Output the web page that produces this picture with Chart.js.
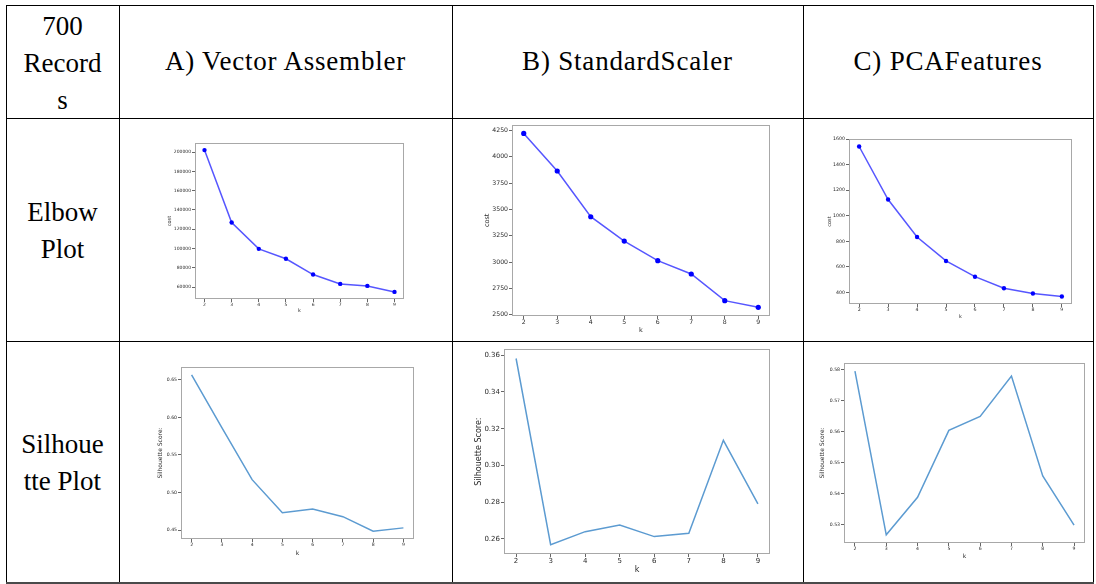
<!DOCTYPE html>
<html><head><meta charset="utf-8">
<script src="https://cdn.jsdelivr.net/npm/chart.js@4.4.0/dist/chart.umd.min.js"></script>
<style>
html,body{margin:0;padding:0;background:#fff;}
body{width:1096px;height:584px;overflow:hidden;position:relative;}
.ln{position:absolute;background:#000;}
.cell{position:absolute;display:flex;align-items:center;justify-content:center;text-align:center;font-family:'Liberation Serif','Tinos','DejaVu Serif','Noto Serif',serif;font-size:27px;line-height:37px;color:#000;white-space:nowrap;}
.hdr{letter-spacing:0.8px;}
canvas{position:absolute;}
</style></head><body>
<script>
// ---------- data ----------
const kValues = [2, 3, 4, 5, 6, 7, 8, 9];
const elbowVectorAssembler = [202000, 127000, 99700, 89400, 73100, 63400, 61300, 55100];
const elbowStandardScaler = [4221, 3864, 3430, 3199, 3013, 2886, 2633, 2570];
const elbowPCAFeatures = [1542, 1127, 834, 647, 524, 434, 392, 369];
const silhouetteVectorAssembler = [0.6566, 0.5863, 0.5172, 0.4733, 0.4782, 0.4680, 0.4487, 0.4531];
const silhouetteStandardScaler = [0.3582, 0.2569, 0.2640, 0.2676, 0.2613, 0.2631, 0.3137, 0.2791];
const silhouettePCAFeatures = [0.5796, 0.5268, 0.5389, 0.5605, 0.5650, 0.5780, 0.5458, 0.5299];

const ticksElbowVA = [60000, 80000, 100000, 120000, 140000, 160000, 180000, 200000];
const ticksElbowSS = [2500, 2750, 3000, 3250, 3500, 3750, 4000, 4250];
const ticksElbowPCA = [400, 600, 800, 1000, 1200, 1400, 1600];
const ticksSilVA = [0.45, 0.50, 0.55, 0.60, 0.65];
const ticksSilSS = [0.26, 0.28, 0.30, 0.32, 0.34, 0.36];
const ticksSilPCA = [0.53, 0.54, 0.55, 0.56, 0.57, 0.58];

const cornerLines = ["700", "Record", "s"];
const headerLabels = ["A) Vector Assembler", "B) StandardScaler", "C) PCAFeatures"];
const rowLabels = [["Elbow", "Plot"], ["Silhoue", "tte Plot"]];
const elbowTitle = "cost";
const silTitle = "Silhouette Score:";
const xTitle = "k";

// ---------- table ----------
const colX = [6, 119, 452, 803, 1093];
const rowY = [5, 118, 341, 582];
function line(x, y, w, h, c) {
  const d = document.createElement('div'); d.className = 'ln';
  d.style.left = x + 'px'; d.style.top = y + 'px'; d.style.width = w + 'px'; d.style.height = h + 'px';
  if (c) d.style.background = c;
  document.body.appendChild(d);
}
colX.forEach(x => line(x, rowY[0], 1, rowY[3] - rowY[0]));
rowY.slice(0, 3).forEach(y => line(colX[0], y, colX[4] - colX[0] + 1, 1));
line(colX[0], rowY[3], colX[4] - colX[0] + 1, 2, '#4a4a4a');
function cell(x0, x1, y0, y1, html, extra) {
  const d = document.createElement('div'); d.className = 'cell' + (extra ? ' ' + extra : '');
  d.style.left = x0 + 'px'; d.style.top = y0 + 'px';
  d.style.width = (x1 - x0) + 'px'; d.style.height = (y1 - y0) + 'px';
  d.innerHTML = html; document.body.appendChild(d);
}
cell(colX[0], colX[1], rowY[0] + 2, rowY[1] + 2, cornerLines.join('<br>'));
headerLabels.forEach((t, i) => cell(colX[i + 1], colX[i + 2], rowY[0], rowY[1], t, 'hdr'));
rowLabels.forEach((r, i) => cell(colX[0], colX[1], rowY[i + 1] + 1, rowY[i + 2] + 1, r.join('<br>')));

// ---------- charts ----------
const framePlugin = {
  id: 'frame',
  afterDatasetsDraw(c) {
    const a = c.chartArea, ctx = c.ctx;
    ctx.save(); ctx.strokeStyle = '#a8a8a8'; ctx.lineWidth = 1;
    ctx.strokeRect(Math.round(a.left) + 0.5, Math.round(a.top) + 0.5, Math.round(a.right - a.left) - 1, Math.round(a.bottom - a.top) - 1);
    ctx.restore();
  }
};

function makeChart(box, vals, yTicks, dec, yTitleText, elbow) {
  const pad = 4;
  const cv = document.createElement('canvas');
  const w = box.yw + (box.R - box.L) + pad, h = pad + (box.B - box.T) + box.xh;
  cv.width = w; cv.height = h;
  cv.style.width = w + 'px'; cv.style.height = h + 'px';
  cv.style.left = (box.L - box.yw) + 'px'; cv.style.top = (box.T - pad) + 'px';
  document.body.appendChild(cv);
  const lo = Math.min(...vals), hi = Math.max(...vals), m = (hi - lo) * 0.05;
  const tickFont = {family: 'DejaVu Sans', size: box.tf};
  const titleFont = {family: 'DejaVu Sans', size: box.ttf};
  const ds = elbow ? {
    data: kValues.map((k, i) => ({x: k, y: vals[i]})),
    borderColor: 'rgba(30,30,255,0.75)', borderWidth: 1.5,
    pointRadius: box.pr, pointBackgroundColor: '#0000ff', pointBorderWidth: 0,
    tension: 0
  } : {
    data: kValues.map((k, i) => ({x: k, y: vals[i]})),
    borderColor: '#5c9bd1', borderWidth: 1.5, pointRadius: 0, tension: 0
  };
  new Chart(cv, {
    type: 'line',
    data: {datasets: [ds]},
    options: {
      responsive: false, animation: false, devicePixelRatio: 1,
      layout: {padding: {top: pad, right: pad, left: 0, bottom: 0}},
      plugins: {legend: {display: false}, tooltip: {enabled: false}},
      scales: {
        x: {
          type: 'linear', min: 1.65, max: 9.35,
          afterBuildTicks: s => { s.ticks = kValues.map(v => ({value: v})); },
          afterFit: s => { s.height = box.xh; },
          grid: {drawOnChartArea: false, drawTicks: true, tickLength: 3, color: '#666'},
          border: {display: false},
          ticks: {font: tickFont, color: '#2a2a2a', padding: 0, maxRotation: 0, autoSkip: false, callback: v => String(v)},
          title: {display: true, text: xTitle, font: titleFont, color: '#2a2a2a', padding: 0}
        },
        y: {
          min: lo - m, max: hi + m,
          afterBuildTicks: s => { s.ticks = yTicks.map(v => ({value: v})); },
          afterFit: s => { s.width = box.yw; },
          grid: {drawOnChartArea: false, drawTicks: true, tickLength: 3, color: '#666'},
          border: {display: false},
          ticks: {font: tickFont, color: '#2a2a2a', padding: 1, autoSkip: false, callback: v => v.toFixed(dec)},
          title: {display: true, text: yTitleText, font: titleFont, color: '#2a2a2a', padding: 0}
        }
      }
    },
    plugins: [framePlugin]
  });
}

makeChart({L:195, T:143, R:404, B:299, yw:28, xh:15, tf:4.5, ttf:5, pr:2.2}, elbowVectorAssembler, ticksElbowVA, 0, elbowTitle, true);
makeChart({L:512, T:124, R:770, B:316, yw:29, xh:18, tf:6.2, ttf:6.5, pr:2.6}, elbowStandardScaler, ticksElbowSS, 0, elbowTitle, true);
makeChart({L:849, T:139, R:1072, B:304, yw:22, xh:16, tf:4.7, ttf:5, pr:2.2}, elbowPCAFeatures, ticksElbowPCA, 0, elbowTitle, true);
makeChart({L:181, T:367, R:414, B:539, yw:24, xh:18, tf:4.6, ttf:6, pr:0}, silhouetteVectorAssembler, ticksSilVA, 2, silTitle, false);
makeChart({L:504, T:348, R:770, B:554, yw:30, xh:21, tf:7, ttf:8, pr:0}, silhouetteStandardScaler, ticksSilSS, 2, silTitle, false);
makeChart({L:844, T:363, R:1085, B:543, yw:25, xh:17, tf:4.6, ttf:6, pr:0}, silhouettePCAFeatures, ticksSilPCA, 2, silTitle, false);
</script>
</body></html>
